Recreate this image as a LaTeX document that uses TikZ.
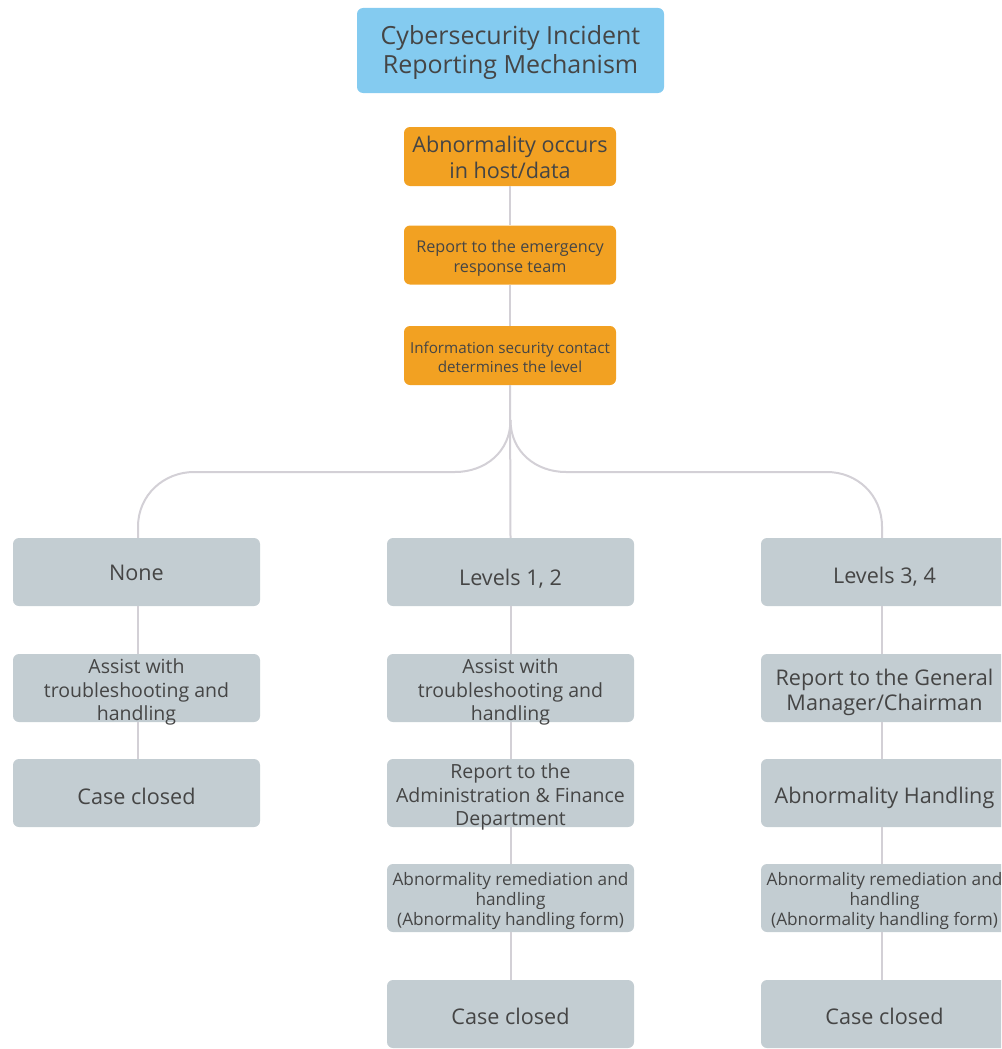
\documentclass[tikz,border=0pt]{standalone}
\usepackage{fontspec}
\setmainfont{Open Sans}
\usetikzlibrary{calc}
\definecolor{titleblue}{HTML}{84CBF0}
\definecolor{orangebox}{HTML}{F2A122}
\definecolor{graybox}{HTML}{C3CDD2}
\definecolor{txtgray}{HTML}{454545}
\definecolor{linegray}{HTML}{D3D0D6}
\tikzset{
  base/.style={rounded corners=6pt, inner sep=0pt, anchor=center},
  titlebox/.style={base, fill=titleblue, minimum width=307pt, minimum height=85pt},
  obox/.style={base, fill=orangebox, minimum width=212pt, minimum height=59pt},
  gbox/.style={base, fill=graybox, minimum width=247pt, minimum height=68pt},
  tx/.style={text=txtgray, align=center, inner sep=0pt},
  conn/.style={draw=linegray, line width=2pt},
  ftitle/.style={tx, font=\fontsize{25}{29}\selectfont},
  big/.style={tx, font=\fontsize{21.6}{25}\selectfont},
  mid/.style={tx, font=\fontsize{19.5}{23.3}\selectfont},
  sml/.style={tx, font=\fontsize{17.2}{20.3}\selectfont},
}
\begin{document}
\begin{tikzpicture}[x=1pt,y=-1pt]
\useasboundingbox (0,0) rectangle (1001,1049);
\clip (0,0) rectangle (1001,1049);
% top chain
\node[titlebox, label={[ftitle, yshift=-2pt]center:{Cybersecurity Incident\\Reporting Mechanism}}] (t) at (510.5,50.5) {};
\node[obox, label={[tx, font=\fontsize{21.6}{25.5}\selectfont, yshift=-1pt]center:{Abnormality occurs\\in host/data}}] (o1) at (510,156.5) {};
\node[obox, label={[tx, font=\fontsize{16.2}{20}\selectfont, yshift=-3pt]center:{Report to the emergency\\response team}}] (o2) at (510,255) {};
\node[obox, label={[tx, font=\fontsize{15.2}{18.5}\selectfont, yshift=-2pt]center:{Information security contact\\determines the level}}] (o3) at (510,355.5) {};
% left column
\node[gbox, label={[big, yshift=-1pt]center:None}] (l1) at (136.5,572) {};
\node[gbox, label={[mid, yshift=-4pt]center:{Assist with\\troubleshooting and\\handling}}] (l2) at (136.5,688) {};
\node[gbox, label={[big, yshift=-3pt]center:{Case closed}}] (l3) at (136.5,793) {};
% middle column
\node[gbox, label={[big, yshift=-7pt]center:{Levels 1, 2}}] (m1) at (510.5,572) {};
\node[gbox, label={[mid, yshift=-4pt]center:{Assist with\\troubleshooting and\\handling}}] (m2) at (510.5,688) {};
\node[gbox, label={[mid, yshift=-4pt]center:{Report to the\\Administration \& Finance\\Department}}] (m3) at (510.5,793) {};
\node[gbox, label={[sml, yshift=-3pt]center:{Abnormality remediation and\\handling\\(Abnormality handling form)}}] (m4) at (510.5,898) {};
\node[gbox, label={[big, yshift=-2.5pt]center:{Case closed}}] (m5) at (510.5,1014) {};
% right column
\node[gbox, label={[big, yshift=-5pt]center:{Levels 3, 4}}] (r1) at (884.5,572) {};
\node[gbox, label={[big, yshift=-4pt]center:{Report to the General\\Manager/Chairman}}] (r2) at (884.5,688) {};
\node[gbox, label={[big, yshift=-5pt]center:{Abnormality Handling}}] (r3) at (884.5,793) {};
\node[gbox, label={[sml, yshift=-3pt]center:{Abnormality remediation and\\handling\\(Abnormality handling form)}}] (r4) at (884.5,898) {};
\node[gbox, label={[big, yshift=-2.5pt]center:{Case closed}}] (r5) at (884.5,1014) {};
% connectors
\draw[conn] (o1.south) -- (o2.north);
\draw[conn] (o2.south) -- (o3.north);
\draw[conn] (o3.south) -- (m1.north);
\coordinate (split) at (510.5,420);
\draw[conn] (split) .. controls +(0,32) and +(30,0) .. (455,472) -- (194,472)
  .. controls +(-30,0) and +(0,-32) .. ($(l1.north)+(1.5,-11)$) -- ($(l1.north)+(1.5,0)$);
\draw[conn] (split) .. controls +(0,32) and +(-30,0) .. (566,472) -- (827,472)
  .. controls +(30,0) and +(0,-32) .. ($(r1.north)+(-2.5,-11)$) -- ($(r1.north)+(-2.5,0)$);
\draw[conn] ($(l1.south)+(1.5,0)$) -- ($(l2.north)+(1.5,0)$);
\draw[conn] ($(l2.south)+(1.5,0)$) -- ($(l3.north)+(1.5,0)$);
\draw[conn] (m1.south) -- (m2.north);
\draw[conn] (m2.south) -- (m3.north);
\draw[conn] (m3.south) -- (m4.north);
\draw[conn] (m4.south) -- (m5.north);
\draw[conn] ($(r1.south)+(-2.5,0)$) -- ($(r2.north)+(-2.5,0)$);
\draw[conn] ($(r2.south)+(-2.5,0)$) -- ($(r3.north)+(-2.5,0)$);
\draw[conn] ($(r3.south)+(-2.5,0)$) -- ($(r4.north)+(-2.5,0)$);
\draw[conn] ($(r4.south)+(-2.5,0)$) -- ($(r5.north)+(-2.5,0)$);
\end{tikzpicture}
\end{document}
